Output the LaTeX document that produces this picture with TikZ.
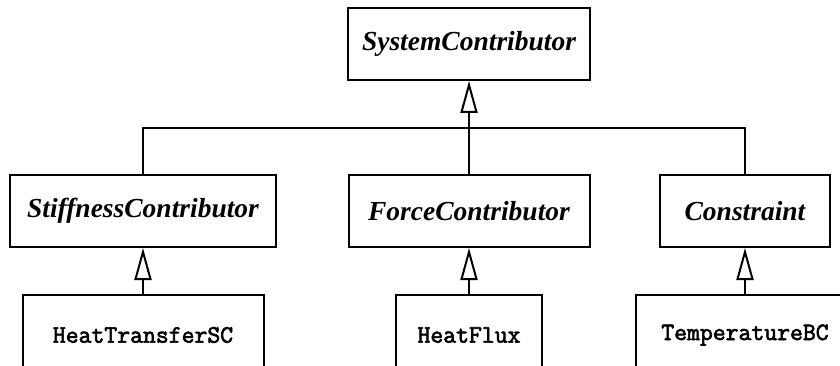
\documentclass[tikz,border=0pt]{standalone}
\usepackage{fontspec}
\setmainfont{Liberation Serif}
\setmonofont{Latin Modern Mono}[AutoFakeBold=2.5]
\usetikzlibrary{arrows.meta}

\begin{document}
\begin{tikzpicture}[
    x=1pt, y=-1pt,
    abstract/.style={rectangle, draw=black, line width=2pt, fill=white, minimum height=72pt,
      inner sep=0pt, font=\fontsize{27.5}{30}\selectfont\bfseries\itshape},
    concrete/.style={rectangle, draw=black, line width=2pt, fill=white, minimum height=80pt,
      inner sep=0pt, font=\fontsize{25}{28}\selectfont\ttfamily\bfseries},
    edge/.style={line width=2pt, black},
    inherits/.style={edge, -{Triangle[open, length=32pt, width=17pt, line width=2pt]}}
  ]

    % Page frame, lower boxes run off the bottom
    \useasboundingbox (0, 0) rectangle (840, 366);
    \clip (0, 0) rectangle (840, 366);

    % Base class
    \node[abstract, minimum width=242pt] (sys) at (469, 44) {SystemContributor};

    % Abstract contributors
    \node[abstract, minimum width=266pt] (stiff) at (143, 211) {StiffnessContributor};
    \node[abstract, minimum width=241pt] (force) at (469, 211) {ForceContributor};
    \node[abstract, minimum width=170pt] (con) at (745, 211) {Constraint};

    % Concrete classes
    \node[concrete, minimum width=241pt] (htsc) at (143, 335) {HeatTransferSC};
    \node[concrete, minimum width=146pt] (flux) at (469, 335) {HeatFlux};
    \node[concrete, minimum width=218pt] (tbc) at (745, 335) {TemperatureBC};

    % Shared junction under the base class
    \coordinate (join) at (469, 128);

    % Generalisation edges
    \draw[edge] (stiff.north) |- (join);
    \draw[edge] (con.north) |- (join);
    \draw[inherits] (force.north) -- (sys.south);

    \draw[inherits] (htsc.north) -- (stiff.south);
    \draw[inherits] (flux.north) -- (force.south);
    \draw[inherits] (tbc.north) -- (con.south);

  \end{tikzpicture}
\end{document}
